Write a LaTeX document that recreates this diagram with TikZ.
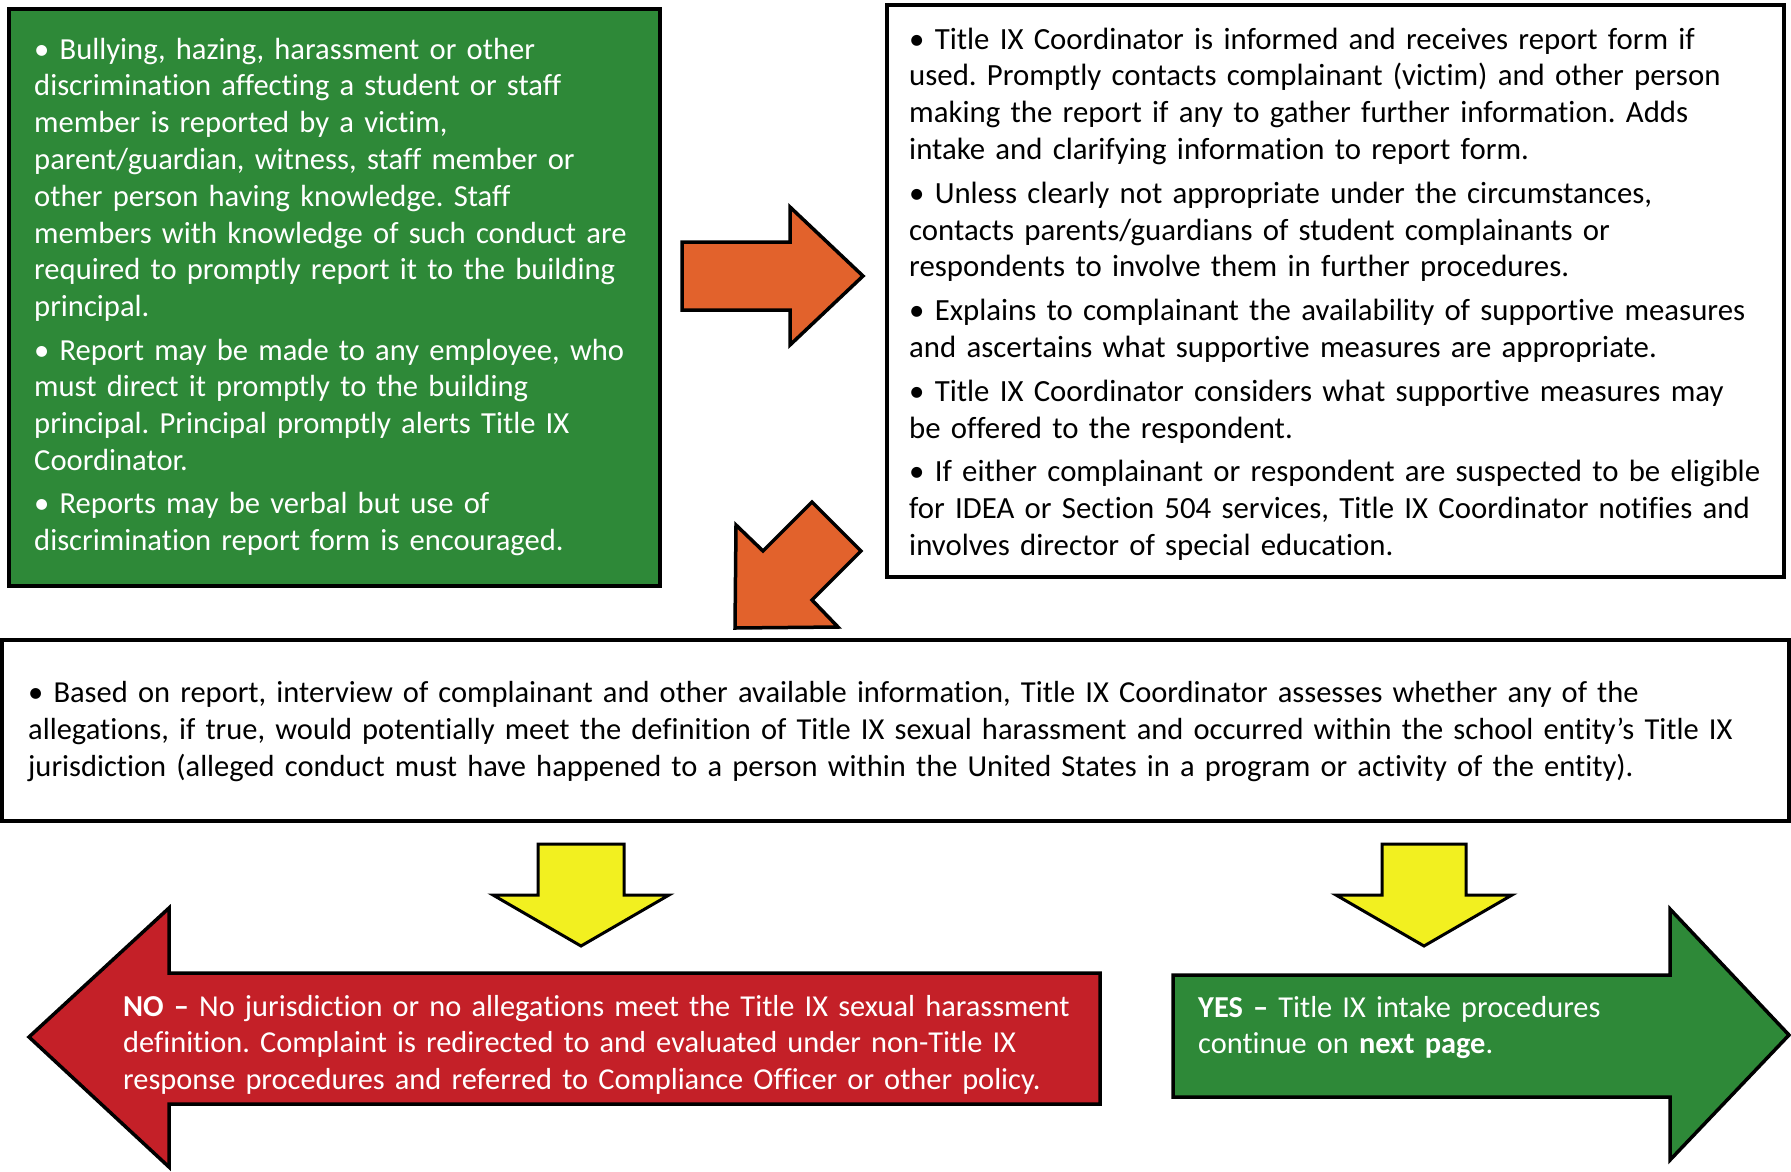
\documentclass[tikz,border=0pt]{standalone}
\usepackage{fontspec}
\setmainfont{Carlito}[Ligatures={TeX,NoCommon}]
\frenchspacing
\definecolor{boxgreen}{RGB}{46,137,56}
\definecolor{arrred}{RGB}{196,32,40}
\definecolor{arrorange}{RGB}{226,98,44}
\definecolor{arryellow}{RGB}{242,240,32}
\tikzset{
  boxline/.style={draw=black, line width=3.5pt},
  arrowshape/.style={draw=black, line width=3.5pt, line join=miter},
  txt/.style={inner sep=0pt, anchor=base west, align=left},
  greenfont/.style={font=\fontsize{30.6}{36.8}\selectfont},
  rightfont/.style={font=\fontsize{30.8}{36.8}\selectfont},
  midfont/.style={font=\fontsize{30.5}{37}\selectfont},
  arrfont/.style={font=\fontsize{30.4}{36.5}\selectfont},
}
\begin{document}
\begin{tikzpicture}[x=1pt,y=-1pt]
\useasboundingbox[fill=white] (0,0) rectangle (1791,1171);

% boxes
\draw[boxline, fill=boxgreen] (9,9) rectangle (660,586);
\draw[boxline, fill=white] (887,5) rectangle (1784,577);
\draw[boxline, fill=white] (2,640) rectangle (1789,821);

% orange arrows
\draw[arrowshape, fill=arrorange] (682,242) -- (790,242) -- (790,207) -- (863,276) -- (790,345) -- (790,310) -- (682,310) -- cycle;
\draw[arrowshape, fill=arrorange] (735,628) -- (736,525) -- (763,551) -- (812,502) -- (861,551) -- (812,600) -- (838,627) -- cycle;

% yellow arrows
\draw[arrowshape, line width=3pt, fill=arryellow] (538,844) -- (624,844) -- (624,895) -- (669,895) -- (581,946) -- (493,895) -- (538,895) -- cycle;
\draw[arrowshape, line width=3pt, fill=arryellow] (1382,844) -- (1466,844) -- (1466,895) -- (1512,895) -- (1424,946) -- (1336,895) -- (1382,895) -- cycle;

% red (NO) arrow
\draw[arrowshape, fill=arrred] (1100,973) -- (169,973) -- (169,908) -- (29,1037) -- (169,1167) -- (169,1104) -- (1100,1104) -- cycle;
% green (YES) arrow
\draw[arrowshape, fill=boxgreen] (1173,975) -- (1670,975) -- (1670,909) -- (1789,1035) -- (1670,1160) -- (1670,1097) -- (1173,1097) -- cycle;

% texts
\node[txt, greenfont, text=white, text width=620pt] (report) at (34,59) {%
• Bullying, hazing, harassment or other\\
discrimination affecting a student or staff\\
member is reported by a victim,\\
parent/guardian, witness, staff member or\\
other person having knowledge. Staff\\
members with knowledge of such conduct are\\
required to promptly report it to the building\\
principal.\\[6.6pt]
• Report may be made to any employee, who\\
must direct it promptly to the building\\
principal. Principal promptly alerts Title IX\\
Coordinator.\\[6.6pt]
• Reports may be verbal but use of\\
discrimination report form is encouraged.};

\node[txt, rightfont, text=black, text width=870pt] (coord) at (909,49) {%
• Title IX Coordinator is informed and receives report form if\\
used. Promptly contacts complainant (victim) and other person\\
making the report if any to gather further information. Adds\\
intake and clarifying information to report form.\\[7pt]
• Unless clearly not appropriate under the circumstances,\\
contacts parents/guardians of student complainants or\\
respondents to involve them in further procedures.\\[7pt]
• Explains to complainant the availability of supportive measures\\
and ascertains what supportive measures are appropriate.\\[7pt]
• Title IX Coordinator considers what supportive measures may\\
be offered to the respondent.\\[7pt]
• If either complainant or respondent are suspected to be eligible\\
for IDEA or Section 504 services, Title IX Coordinator notifies and\\
involves director of special education.};

\node[txt, midfont, text=black, text width=1750pt] (assess) at (28,702) {%
• Based on report, interview of complainant and other available information, Title IX Coordinator assesses whether any of the\\
allegations, if true, would potentially meet the definition of Title IX sexual harassment and occurred within the school entity’s Title IX\\
jurisdiction (alleged conduct must have happened to a person within the United States in a program or activity of the entity).};

\node[txt, arrfont, text=white, text width=960pt] (no) at (123,1016) {%
\textbf{NO –} No jurisdiction or no allegations meet the Title IX sexual harassment\\
definition. Complaint is redirected to and evaluated under non-Title IX\\
response procedures and referred to Compliance Officer or other policy.};

\node[txt, arrfont, text=white, text width=460pt] (yes) at (1198,1017) {%
\textbf{YES –} Title IX intake procedures\\
continue on \textbf{next page}.};
\end{tikzpicture}
\end{document}
